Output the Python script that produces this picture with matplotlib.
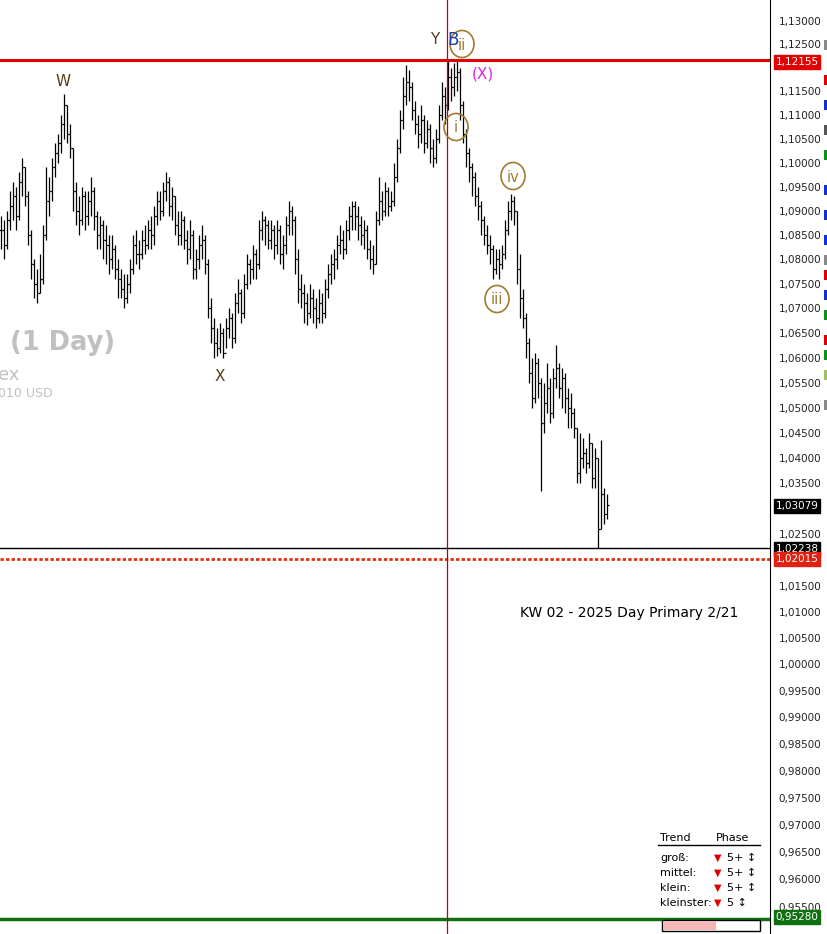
import matplotlib
matplotlib.use("Agg")
import matplotlib.pyplot as plt
from matplotlib.patches import Rectangle, Circle
from matplotlib.ticker import FixedLocator, NullLocator

closes = [1.086,1.083,1.088,1.091,1.093,1.089,1.096,1.099,1.093,1.085,1.079,1.075,1.073,1.076,1.085,1.092,1.094,1.099,1.102,1.104,
1.108,1.112,1.106,1.103,1.094,1.090,1.088,1.093,1.089,1.092,1.094,1.089,1.085,1.087,1.084,1.083,1.080,1.082,1.078,1.076,
1.074,1.072,1.075,1.078,1.083,1.081,1.081,1.084,1.083,1.086,1.085,1.089,1.092,1.090,1.094,1.096,1.091,1.093,1.087,1.085,
1.088,1.084,1.082,1.085,1.078,1.080,1.083,1.084,1.079,1.070,1.066,1.063,1.062,1.065,1.061,1.066,1.068,1.064,1.071,1.073,
1.069,1.075,1.079,1.078,1.081,1.079,1.086,1.088,1.087,1.084,1.086,1.083,1.086,1.081,1.083,1.087,1.090,1.088,1.080,1.074,
1.073,1.071,1.069,1.072,1.070,1.068,1.071,1.069,1.074,1.077,1.079,1.080,1.083,1.084,1.082,1.086,1.089,1.091,1.089,1.087,
1.085,1.086,1.082,1.080,1.079,1.088,1.092,1.090,1.094,1.091,1.092,1.097,1.103,1.109,1.114,1.117,1.116,1.111,1.108,1.106,
1.109,1.104,1.107,1.103,1.101,1.105,1.110,1.114,1.112,1.118,1.116,1.118,1.119,1.112,1.106,1.102,1.099,1.097,1.093,1.091,
1.088,1.085,1.083,1.082,1.078,1.080,1.079,1.081,1.086,1.090,1.092,1.090,1.078,1.072,1.068,1.063,1.057,1.052,1.059,1.055,
1.047,1.051,1.054,1.049,1.056,1.058,1.054,1.056,1.052,1.050,1.049,1.046,1.037,1.040,1.041,1.039,1.043,1.036,1.040,1.026,
1.033,1.029,1.0308]
highs = [1.089,1.088,1.090,1.094,1.096,1.095,1.098,1.101,1.099,1.094,1.086,1.080,1.078,1.081,1.087,1.099,1.097,1.101,1.104,1.106,
1.110,1.1145,1.112,1.108,1.103,1.096,1.093,1.095,1.094,1.094,1.097,1.095,1.090,1.089,1.088,1.087,1.085,1.085,1.083,1.080,
1.078,1.077,1.077,1.080,1.085,1.086,1.084,1.086,1.087,1.088,1.089,1.091,1.094,1.094,1.096,1.098,1.097,1.095,1.093,1.090,
1.090,1.089,1.086,1.088,1.086,1.082,1.085,1.087,1.085,1.080,1.072,1.068,1.066,1.067,1.066,1.068,1.070,1.069,1.073,1.076,
1.074,1.077,1.081,1.080,1.083,1.082,1.088,1.090,1.089,1.088,1.088,1.087,1.088,1.087,1.085,1.089,1.092,1.091,1.089,1.082,
1.077,1.075,1.073,1.075,1.074,1.072,1.074,1.073,1.076,1.079,1.081,1.082,1.085,1.087,1.086,1.088,1.091,1.092,1.092,1.091,
1.089,1.088,1.087,1.084,1.083,1.090,1.097,1.094,1.096,1.095,1.094,1.100,1.105,1.111,1.118,1.1205,1.1195,1.117,1.113,1.110,
1.112,1.110,1.109,1.108,1.105,1.107,1.112,1.117,1.116,1.1215,1.120,1.121,1.1215,1.120,1.113,1.107,1.103,1.100,1.098,1.095,
1.092,1.089,1.087,1.085,1.083,1.082,1.082,1.083,1.088,1.092,1.0935,1.093,1.090,1.081,1.074,1.069,1.064,1.060,1.061,1.060,
1.056,1.055,1.059,1.056,1.058,1.0625,1.059,1.058,1.057,1.054,1.053,1.050,1.046,1.045,1.044,1.042,1.045,1.043,1.042,1.040,
1.0435,1.034,1.033]
lows = [1.082,1.080,1.082,1.086,1.088,1.086,1.088,1.093,1.091,1.083,1.076,1.072,1.071,1.073,1.075,1.084,1.089,1.092,1.097,1.100,
1.102,1.105,1.104,1.101,1.090,1.087,1.085,1.087,1.086,1.087,1.089,1.086,1.082,1.082,1.080,1.079,1.077,1.078,1.076,1.072,
1.072,1.070,1.071,1.073,1.077,1.079,1.078,1.080,1.081,1.082,1.082,1.083,1.087,1.088,1.089,1.092,1.089,1.088,1.085,1.083,
1.083,1.082,1.079,1.080,1.076,1.076,1.078,1.080,1.077,1.068,1.063,1.060,1.0604,1.061,1.060,1.062,1.064,1.062,1.063,1.069,
1.067,1.068,1.074,1.075,1.076,1.076,1.078,1.084,1.083,1.082,1.082,1.080,1.081,1.079,1.078,1.081,1.085,1.085,1.077,1.071,
1.070,1.067,1.0665,1.068,1.067,1.066,1.067,1.067,1.068,1.072,1.075,1.076,1.078,1.081,1.080,1.081,1.084,1.086,1.086,1.084,
1.083,1.082,1.080,1.078,1.077,1.079,1.087,1.088,1.089,1.089,1.090,1.091,1.096,1.102,1.107,1.112,1.113,1.109,1.106,1.103,
1.104,1.102,1.103,1.100,1.099,1.100,1.104,1.109,1.108,1.111,1.113,1.114,1.115,1.109,1.104,1.099,1.096,1.093,1.091,1.088,
1.085,1.083,1.081,1.079,1.076,1.077,1.076,1.078,1.080,1.085,1.088,1.087,1.075,1.068,1.066,1.060,1.055,1.050,1.051,1.052,
1.0335,1.045,1.049,1.047,1.048,1.054,1.052,1.050,1.049,1.046,1.046,1.044,1.035,1.035,1.038,1.037,1.038,1.034,1.034,1.0224,
1.026,1.027,1.028]
yticks = [round(0.955 + 0.005 * k, 3) for k in range(37)]
hidden_ticks = [1.12, 1.03, 1.02]
levels = {"top": 1.12155, "last": 1.03079, "low": 1.02238, "dotted": 1.02015, "green": 0.95280}

W, H = 828, 934
fig = plt.figure(figsize=(W/100, H/100), dpi=100)
ax = fig.add_axes([0, 0, 770/W, 1])
ax.set_yscale("log")
ax.set_ylim(0.9501, 1.1345)
ax.set_xlim(-0.33, 256.33)

n = len(closes)
xs = list(range(n))
opens = [closes[0]] + closes[:-1]
ax.vlines(xs, lows, highs, color="black", lw=0.9)
ax.hlines(opens, [x - 0.5 for x in xs], xs, color="black", lw=0.9)
ax.hlines(closes, xs, [x + 0.5 for x in xs], color="black", lw=0.9)

ax.axhline(levels["top"], color="#e00000", lw=2.2)
ax.axhline(levels["low"], color="black", lw=1.0)
ax.axhline(levels["dotted"], color="#e03010", lw=2.0, ls=(0, (1.2, 0.8)))
ax.axhline(levels["green"], color="#107010", lw=2.5)
ax.axvline(148.7, color="#c00000", lw=0.9)

ax.yaxis.set_major_locator(FixedLocator(yticks))
ax.yaxis.set_minor_locator(NullLocator())
ax.set_yticklabels(["" if v in hidden_ticks else ("%.5f" % v).replace(".", ",") for v in yticks])
ax.yaxis.tick_right()
ax.tick_params(axis="y", length=0, pad=6, labelsize=7.5, colors="#222222")
ax.set_xticks([])
for s in ["top", "left", "bottom"]:
    ax.spines[s].set_visible(False)
ax.spines["right"].set_color("black")

def P(x, y):
    return (x / W, 1 - y / H)

def ftxt(x, y, s, **kw):
    fig.text(*P(x, y), s, transform=fig.transFigure, **kw)

brown = "#5a3a1a"
gold = "#a07a30"
ftxt(63, 81, "W", color=brown, fontsize=11, ha="center", va="center")
ftxt(220, 377, "X", color=brown, fontsize=11, ha="center", va="center")
ftxt(435, 40, "Y", color=brown, fontsize=11, ha="center", va="center")
ftxt(453, 40, "B", color="#1f3fa0", fontsize=12, ha="center", va="center")
ftxt(483, 74, "(X)", color="#e020e0", fontsize=11, ha="center", va="center")
for (cx, cy, lab) in [(462, 44, "ii"), (456, 127, "i"), (513, 176, "iv"), (497, 299, "iii")]:
    fig.patches.append(Circle(P(cx, cy), 12 / W, transform=fig.transFigure, fill=False,
                              edgecolor=gold, lw=1.2))
    ftxt(cx, cy + 1, lab, color=gold, fontsize=10.5, ha="center", va="center")

ftxt(10, 343, "(1 Day)", color="#c0c0c0", fontsize=18.5, fontweight="bold", ha="left", va="center")
ftxt(-2, 375, "ex", color="#c0c0c0", fontsize=13, ha="left", va="center")
ftxt(-2, 393, "010 USD", color="#c0c0c0", fontsize=9, ha="left", va="center")
ftxt(520, 613, "KW 02 - 2025 Day Primary 2/21", color="black", fontsize=10, ha="left", va="center")

def box(y, val, bg):
    ftxt(797, y, ("%.5f" % val).replace(".", ","), color="white", fontsize=7.5, ha="center", va="center",
         bbox=dict(boxstyle="square,pad=0.18", fc=bg, ec=bg))
box(62, levels["top"], "#e00000")
box(506, levels["last"], "black")
box(549, levels["low"], "black")
box(559, levels["dotted"], "#e02010")
box(917, levels["green"], "#107010")

strip = [(40, "#888888"), (75, "#e00000"), (100, "#1030d0"), (125, "#555555"), (150, "#109010"),
         (185, "#1030d0"), (210, "#1030d0"), (235, "#1030d0"), (255, "#888888"), (270, "#e00000"),
         (290, "#1030d0"), (310, "#109010"), (335, "#e00000"), (350, "#109010"), (370, "#a0c060"),
         (400, "#888888")]
for (y, c) in strip:
    fig.patches.append(Rectangle(P(824, y + 10), 4 / W, 10 / H, transform=fig.transFigure, fc=c, ec="none"))

ftxt(660, 838, "Trend", fontsize=8, ha="left", va="center")
ftxt(716, 838, "Phase", fontsize=8, ha="left", va="center")
fig.lines.append(plt.Line2D([658 / W, 760 / W], [1 - 845 / H] * 2, transform=fig.transFigure, color="black", lw=1))
for i, lab in enumerate(["groß:", "mittel:", "klein:", "kleinster:"]):
    y = 858 + 15 * i
    ftxt(660, y, lab, fontsize=8, ha="left", va="center")
    ftxt(714, y, "▼", fontsize=7, color="#e00000", ha="left", va="center")
    ftxt(727, y, "5 ↕" if i == 3 else "5+ ↕", fontsize=8, ha="left", va="center")
fig.patches.append(Rectangle(P(662, 931), 98 / W, 11 / H, transform=fig.transFigure, fc="white", ec="black", lw=1))
fig.patches.append(Rectangle(P(663, 930), 53 / W, 9 / H, transform=fig.transFigure, fc="#f4b8b8", ec="none"))

fig.savefig("out.png", dpi=100)
